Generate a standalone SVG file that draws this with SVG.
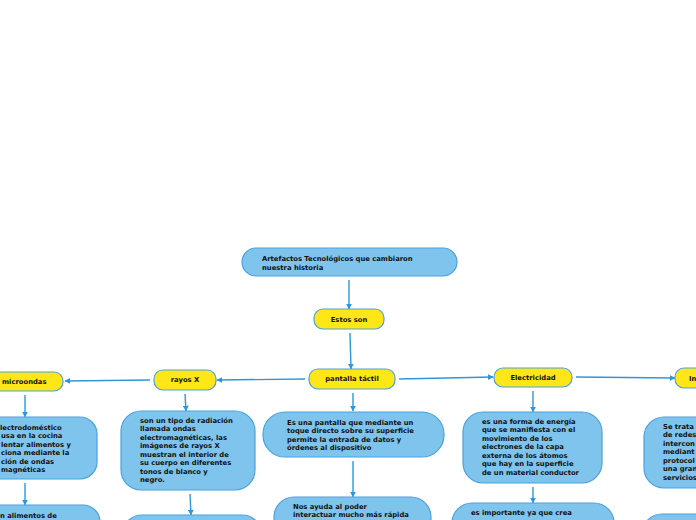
<svg xmlns="http://www.w3.org/2000/svg" width="696" height="520" viewBox="0 0 696 520">
<defs>
<marker id="ah" viewBox="0 0 10 10" refX="9" refY="5" markerWidth="6" markerHeight="6" orient="auto" markerUnits="userSpaceOnUse">
<path d="M0,0 L10,5 L0,10 z" fill="#2E96DD"/>
</marker>
<style>
.b{fill:#7EC4EC;stroke:#4AA2DE;stroke-width:1.2}
.y{fill:#FFE617;stroke:#4AA2DE;stroke-width:1.2}
.t{font-family:"DejaVu Sans",Verdana,sans-serif;font-weight:bold;font-size:6.8px;fill:#111}
.c{text-anchor:middle}
.e{fill:none;stroke:#2E96DD;stroke-width:1.4;marker-end:url(#ah)}
</style>
</defs>
<rect width="696" height="520" fill="#fff"/>
<g id="connectors">
<path class="e" d="M349,280 L349,309"/>
<path class="e" d="M350,333 L351,369"/>
<path class="e" d="M305,379 L217,380"/>
<path class="e" d="M150,380 L65,381"/>
<path class="e" d="M399,379 L493,377"/>
<path class="e" d="M576,377 L675,378"/>
<path class="e" d="M25,395 L25,417"/>
<path class="e" d="M25,483 L25,505"/>
<path class="e" d="M185,394 L186,411"/>
<path class="e" d="M190,494 L191,515"/>
<path class="e" d="M353,393 L353,411"/>
<path class="e" d="M353,461 L353,497"/>
<path class="e" d="M533,391 L533,412"/>
<path class="e" d="M533,487 L533,503"/>
</g>
<g id="root">
<rect class="b" x="242" y="248" width="215" height="28" rx="14"/>
<text class="t" x="262" y="261">Artefactos Tecnológicos que cambiaron</text>
<text class="t" x="262" y="270">nuestra historia</text>
</g>
<g id="estos">
<rect class="y" x="314" y="309" width="70" height="20" rx="9"/>
<text class="t c" x="349" y="322">Estos son</text>
</g>
<g id="pantalla">
<rect class="y" x="309" y="369" width="86" height="20" rx="9"/>
<text class="t c" x="352" y="381">pantalla táctil</text>
</g>
<g id="rayos">
<rect class="y" x="154" y="370" width="62" height="20" rx="9"/>
<text class="t c" x="185" y="382">rayos X</text>
</g>
<g id="microondas">
<rect class="y" x="-40" y="372" width="103" height="19" rx="9"/>
<text class="t" x="2" y="384">microondas</text>
</g>
<g id="electricidad">
<rect class="y" x="494" y="368" width="78" height="19" rx="9"/>
<text class="t c" x="533" y="380">Electricidad</text>
</g>
<g id="internet">
<rect class="y" x="675" y="368" width="60" height="20" rx="9"/>
<text class="t" x="689" y="381">In</text>
</g>
<g id="microondas-desc">
<rect class="b" x="-40" y="417" width="137" height="62" rx="17"/>
<text class="t" x="0" y="430">lectrodoméstico</text>
<text class="t" x="1" y="438">usa en la cocina</text>
<text class="t" x="1" y="447">lentar alimentos y</text>
<text class="t" x="1" y="455">ciona mediante la</text>
<text class="t" x="1" y="464">ción de ondas</text>
<text class="t" x="1" y="472">magnéticas</text>
</g>
<g id="microondas-desc2">
<rect class="b" x="-40" y="505" width="140" height="40" rx="17"/>
<text class="t" x="0" y="518">n alimentos de</text>
</g>
<g id="rayos-desc">
<rect class="b" x="121" y="411" width="134" height="79" rx="20"/>
<text class="t" x="140" y="423">son un tipo de radiación</text>
<text class="t" x="140" y="431">llamada ondas</text>
<text class="t" x="140" y="440">electromagnéticas, las</text>
<text class="t" x="140" y="448">imágenes de rayos X</text>
<text class="t" x="140" y="457">muestran el interior de</text>
<text class="t" x="140" y="465">su cuerpo en diferentes</text>
<text class="t" x="140" y="474">tonos de blanco y</text>
<text class="t" x="140" y="482">negro.</text>
</g>
<g id="rayos-desc2">
<rect class="b" x="122" y="515" width="140" height="40" rx="20"/>
</g>
<g id="pantalla-desc">
<rect class="b" x="263" y="412" width="181" height="45" rx="22"/>
<text class="t" x="287" y="425">Es una pantalla que mediante un</text>
<text class="t" x="287" y="433">toque directo sobre su superficie</text>
<text class="t" x="287" y="442">permite la entrada de datos y</text>
<text class="t" x="287" y="450">órdenes al dispositivo</text>
</g>
<g id="pantalla-desc2">
<rect class="b" x="274" y="497" width="157" height="50" rx="20"/>
<text class="t" x="293" y="509">Nos ayuda al poder</text>
<text class="t" x="293" y="517">interactuar mucho más rápida</text>
</g>
<g id="electricidad-desc">
<rect class="b" x="463" y="412" width="139" height="71" rx="20"/>
<text class="t" x="482" y="424">es una forma de energía</text>
<text class="t" x="482" y="432">que se manifiesta con el</text>
<text class="t" x="482" y="441">movimiento de los</text>
<text class="t" x="482" y="449">electrones de la capa</text>
<text class="t" x="482" y="458">externa de los átomos</text>
<text class="t" x="482" y="466">que hay en la superficie</text>
<text class="t" x="482" y="475">de un material conductor</text>
</g>
<g id="electricidad-desc2">
<rect class="b" x="452" y="503" width="162" height="50" rx="20"/>
<text class="t" x="471" y="515">es importante ya que crea</text>
</g>
<g id="internet-desc">
<rect class="b" x="644" y="417" width="120" height="71" rx="20"/>
<text class="t" x="663" y="429">Se trata</text>
<text class="t" x="663" y="437">de redes</text>
<text class="t" x="663" y="446">intercon</text>
<text class="t" x="663" y="454">mediant</text>
<text class="t" x="663" y="463">protocol</text>
<text class="t" x="663" y="471">una gran</text>
<text class="t" x="663" y="480">servicios</text>
</g>
<g id="internet-desc2">
<rect class="b" x="642" y="514" width="120" height="40" rx="20"/>
</g>
</svg>
